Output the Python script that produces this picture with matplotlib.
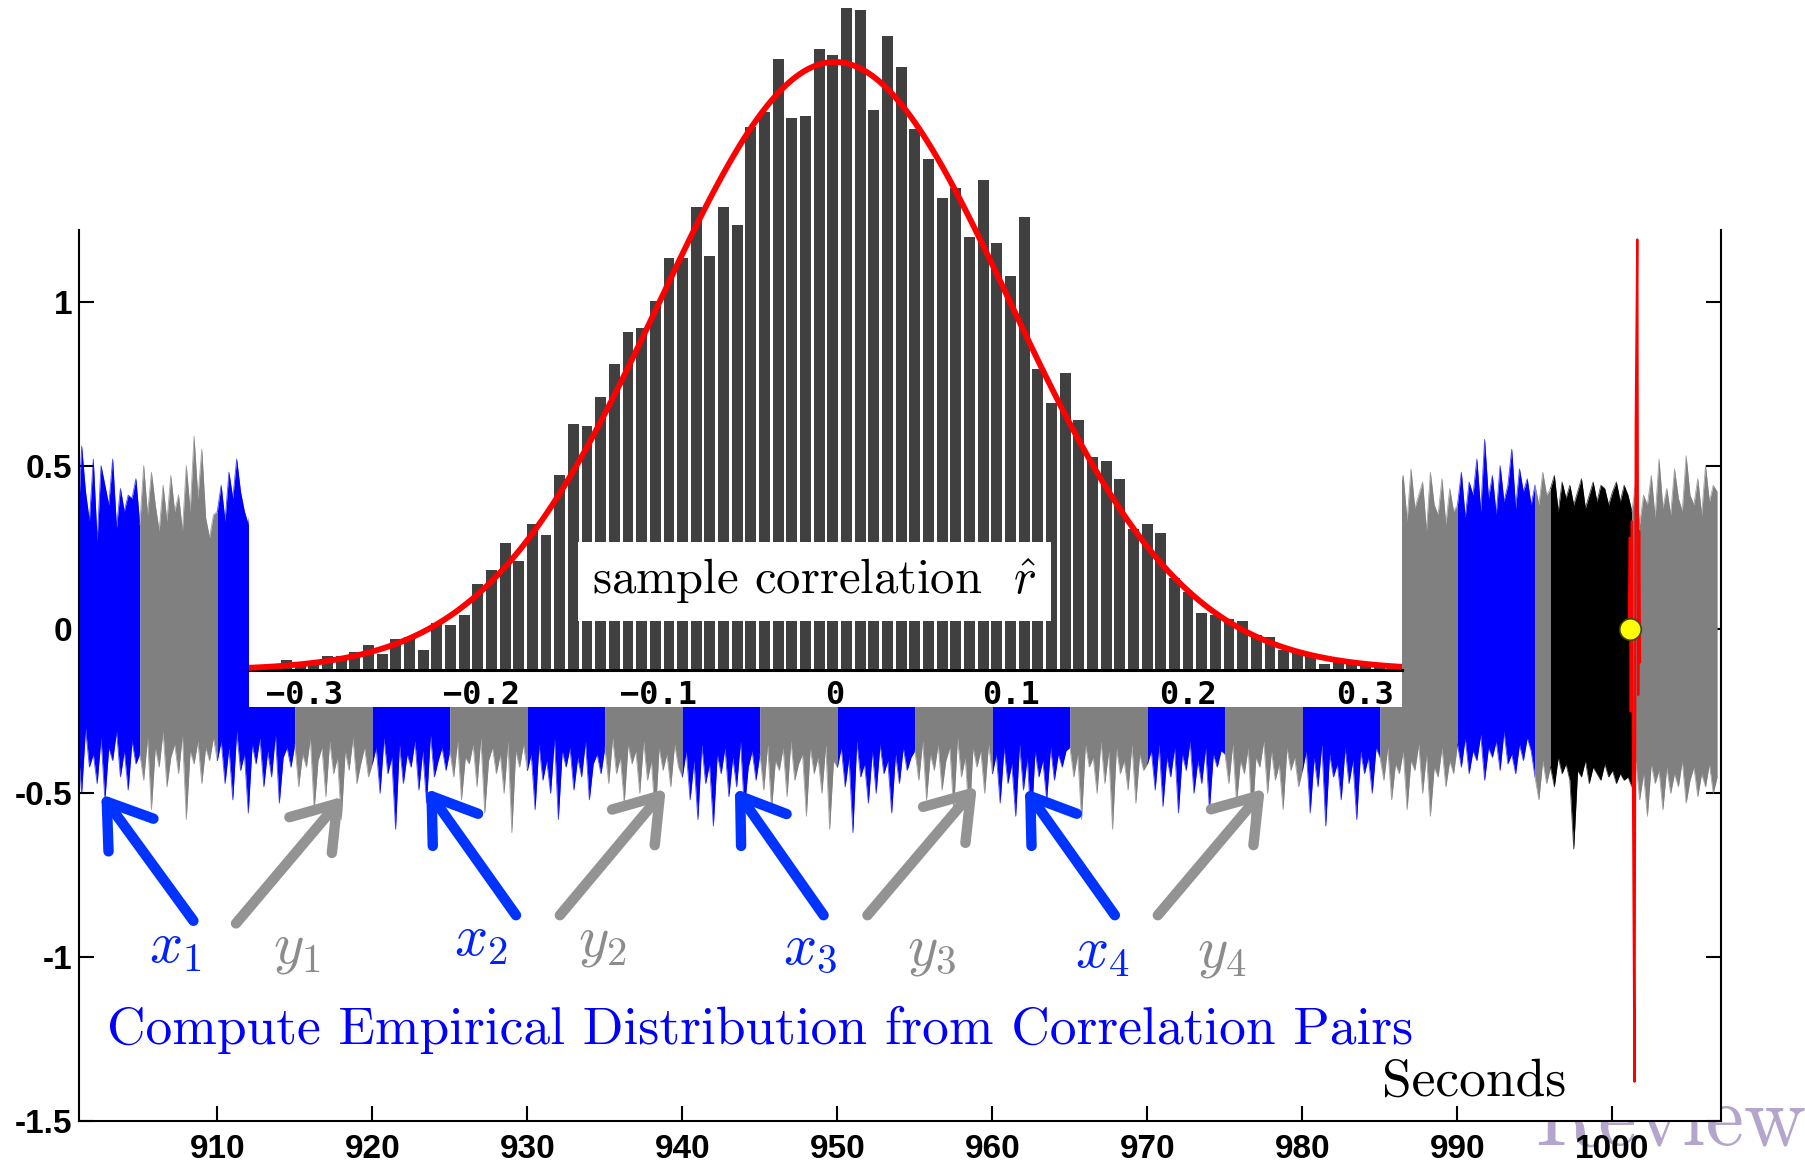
import numpy as np
import matplotlib
matplotlib.use("Agg")
import matplotlib.pyplot as plt

plt.rcParams['axes.unicode_minus'] = False
plt.rcParams['mathtext.fontset'] = 'cm'
plt.rcParams['path.simplify'] = False

# ---------------- data: time series envelope (sampled every 0.25 s from 901.0 s) ----------------
sig_start, sig_step = 901.0, 0.25
sig_upper = [
    0.30,0.56,0.42,0.33,0.52,0.27,0.50,0.44,0.38,0.52,0.31,0.43,0.36,0.41,0.40,0.46,
    0.32,0.50,0.35,0.48,0.38,0.30,0.44,0.33,0.47,0.36,0.41,0.30,0.50,0.36,0.59,0.40,0.55,0.34,0.28,0.35,
    0.36,0.44,0.33,0.48,0.40,0.52,0.42,0.36,0.32,0.40,0.30,0.45,0.35,0.38,0.42,0.30,0.36,0.44,0.33,0.39,
    0.34,0.41,0.30,0.38,0.45,0.33,0.36,0.40,0.31,0.43,0.37,0.35,0.48,0.32,0.39,0.42,0.34,0.30,0.44,0.36,
    0.39,0.33,0.46,0.35,0.40,0.31,0.37,0.44,0.34,0.38,0.42,0.30,0.36,0.47,0.33,0.40,0.35,0.43,0.31,0.38,
    0.36,0.42,0.32,0.39,0.35,0.45,0.30,0.41,0.37,0.33,0.46,0.35,0.38,0.31,0.43,0.36,0.40,0.34,0.39,0.32,
    0.41,0.35,0.44,0.31,0.38,0.47,0.34,0.40,0.36,0.43,0.32,0.39,0.45,0.33,0.37,0.42,0.30,0.46,0.35,0.40,
    0.33,0.40,0.36,0.45,0.31,0.38,0.43,0.35,0.41,0.30,0.47,0.34,0.39,0.36,0.44,0.32,0.40,0.37,0.42,0.35,
    0.38,0.45,0.34,0.41,0.36,0.48,0.32,0.39,0.44,0.35,0.40,0.31,0.46,0.37,0.42,0.34,0.38,0.43,0.33,0.41,
    0.35,0.42,0.31,0.46,0.37,0.40,0.33,0.44,0.36,0.39,0.45,0.32,0.41,0.35,0.47,0.38,0.34,0.42,0.36,0.40,
    0.43,0.36,0.40,0.33,0.47,0.35,0.41,0.38,0.32,0.44,0.37,0.42,0.34,0.39,0.46,0.31,0.40,0.36,0.43,0.35,
    0.37,0.44,0.33,0.40,0.36,0.42,0.31,0.45,0.38,0.35,0.41,0.47,0.34,0.39,0.36,0.43,0.32,0.40,0.37,0.44,
    0.40,0.34,0.45,0.37,0.41,0.32,0.48,0.36,0.39,0.43,0.35,0.40,0.33,0.46,0.38,0.34,0.42,0.37,0.41,0.36,
    0.34,0.41,0.38,0.44,0.31,0.39,0.36,0.46,0.33,0.40,0.37,0.43,0.35,0.38,0.42,0.30,0.45,0.36,0.39,0.34,
    0.42,0.36,0.39,0.45,0.34,0.41,0.37,0.33,0.47,0.38,0.35,0.43,0.40,0.32,0.44,0.37,0.39,0.35,0.46,0.38,
    0.36,0.43,0.34,0.40,0.38,0.45,0.32,0.41,0.36,0.39,0.44,0.33,0.42,0.37,0.35,0.46,0.38,0.40,0.34,0.43,
    0.39,0.35,0.44,0.37,0.42,0.33,0.40,0.46,0.36,0.38,0.41,0.34,0.45,0.39,0.36,0.43,0.31,0.40,0.37,0.42,
    0.35,0.42,0.31,0.38,0.36,0.44,0.47,0.33,0.49,0.37,0.41,0.45,0.30,0.48,0.38,0.35,0.46,0.32,0.43,0.36,
    0.38,0.48,0.34,0.45,0.41,0.52,0.36,0.58,0.40,0.47,0.35,0.50,0.39,0.44,0.55,0.37,0.49,0.42,0.46,0.38,
    0.44,0.38,0.48,0.41,0.43,0.47,0.36,0.45,0.40,0.44,0.38,0.42,0.46,0.37,0.41,0.45,0.39,0.44,0.43,0.38,
    0.42,0.45,0.39,0.44,0.41,0.36,0.45,0.32,0.41,0.38,0.47,0.34,0.52,0.37,0.43,0.35,0.49,0.40,0.36,0.53,
    0.41,0.38,0.46,0.35,0.50,0.39,0.44,0.42,
]
sig_lower = [
    -0.35,-0.50,-0.30,-0.42,-0.38,-0.47,-0.33,-0.52,-0.36,-0.40,-0.31,-0.45,-0.37,-0.49,-0.34,-0.41,
    -0.38,-0.46,-0.33,-0.55,-0.36,-0.42,-0.31,-0.48,-0.39,-0.35,-0.44,-0.32,-0.58,-0.37,-0.41,-0.34,-0.47,-0.36,-0.40,-0.33,
    -0.40,-0.34,-0.47,-0.36,-0.52,-0.31,-0.43,-0.38,-0.56,-0.35,-0.41,-0.33,-0.48,-0.37,-0.45,-0.32,-0.53,-0.39,-0.36,-0.42,
    -0.35,-0.48,-0.38,-0.42,-0.33,-0.55,-0.40,-0.36,-0.51,-0.34,-0.44,-0.39,-0.58,-0.37,-0.43,-0.33,-0.47,-0.41,-0.36,-0.45,
    -0.41,-0.36,-0.50,-0.33,-0.44,-0.39,-0.61,-0.35,-0.47,-0.38,-0.42,-0.34,-0.49,-0.37,-0.53,-0.32,-0.45,-0.40,-0.36,-0.43,
    -0.37,-0.45,-0.34,-0.52,-0.39,-0.41,-0.35,-0.48,-0.33,-0.56,-0.40,-0.36,-0.44,-0.38,-0.50,-0.34,-0.62,-0.37,-0.42,-0.35,
    -0.43,-0.38,-0.55,-0.35,-0.46,-0.40,-0.50,-0.33,-0.58,-0.37,-0.42,-0.36,-0.49,-0.39,-0.45,-0.34,-0.52,-0.41,-0.38,-0.44,
    -0.36,-0.47,-0.33,-0.44,-0.39,-0.53,-0.35,-0.41,-0.37,-0.50,-0.34,-0.46,-0.40,-0.57,-0.36,-0.43,-0.38,-0.48,-0.35,-0.42,
    -0.45,-0.37,-0.52,-0.40,-0.58,-0.35,-0.47,-0.41,-0.60,-0.38,-0.44,-0.36,-0.51,-0.39,-0.48,-0.34,-0.55,-0.42,-0.37,-0.46,
    -0.38,-0.49,-0.35,-0.55,-0.40,-0.43,-0.36,-0.51,-0.34,-0.46,-0.41,-0.38,-0.57,-0.36,-0.44,-0.39,-0.50,-0.35,-0.61,-0.40,
    -0.42,-0.36,-0.48,-0.39,-0.62,-0.34,-0.45,-0.41,-0.53,-0.37,-0.50,-0.35,-0.44,-0.40,-0.56,-0.38,-0.47,-0.36,-0.43,-0.39,
    -0.37,-0.46,-0.34,-0.52,-0.38,-0.43,-0.35,-0.49,-0.40,-0.36,-0.55,-0.33,-0.45,-0.39,-0.58,-0.36,-0.42,-0.37,-0.50,-0.35,
    -0.44,-0.38,-0.53,-0.36,-0.47,-0.41,-0.57,-0.35,-0.49,-0.39,-0.60,-0.37,-0.45,-0.40,-0.52,-0.36,-0.46,-0.38,-0.42,-0.37,
    -0.36,-0.45,-0.38,-0.58,-0.35,-0.42,-0.39,-0.50,-0.34,-0.47,-0.37,-0.61,-0.36,-0.44,-0.40,-0.49,-0.35,-0.53,-0.38,-0.43,
    -0.41,-0.37,-0.49,-0.35,-0.54,-0.39,-0.45,-0.36,-0.56,-0.38,-0.43,-0.34,-0.50,-0.40,-0.47,-0.36,-0.55,-0.38,-0.42,-0.37,
    -0.38,-0.47,-0.35,-0.53,-0.40,-0.44,-0.36,-0.58,-0.39,-0.42,-0.34,-0.50,-0.37,-0.46,-0.41,-0.55,-0.36,-0.43,-0.39,-0.48,
    -0.43,-0.37,-0.56,-0.39,-0.48,-0.35,-0.60,-0.38,-0.45,-0.41,-0.52,-0.36,-0.47,-0.40,-0.58,-0.37,-0.44,-0.39,-0.50,-0.36,
    -0.39,-0.46,-0.36,-0.52,-0.41,-0.44,-0.37,-0.55,-0.40,-0.43,-0.35,-0.50,-0.38,-0.57,-0.42,-0.45,-0.36,-0.48,-0.40,-0.44,
    -0.35,-0.42,-0.33,-0.44,-0.37,-0.40,-0.32,-0.46,-0.36,-0.39,-0.34,-0.43,-0.31,-0.41,-0.38,-0.44,-0.35,-0.40,-0.33,-0.37,
    -0.45,-0.52,-0.40,-0.47,-0.42,-0.48,-0.39,-0.44,-0.41,-0.46,-0.67,-0.43,-0.45,-0.40,-0.47,-0.42,-0.44,-0.46,-0.41,-0.45,
    -0.43,-0.47,-0.44,-0.46,-0.45,-0.48,-0.40,-0.52,-0.44,-0.57,-0.41,-0.47,-0.43,-0.55,-0.42,-0.50,-0.44,-0.48,-0.40,-0.53,
    -0.46,-0.42,-0.51,-0.44,-0.48,-0.41,-0.50,-0.45,
]
# coloured segments of the record (seconds)
seg_edges = [901.0, 905.0, 910.0, 915.0, 920.0, 925.0, 930.0, 935.0, 940.0, 945.0, 950.0,
             955.0, 960.0, 965.0, 970.0, 975.0, 980.0, 985.0, 990.0, 995.0, 996.0, 1001.1, 1007.0]
seg_kind = ['x', 'y', 'x', 'y', 'x', 'y', 'x', 'y', 'x', 'y', 'x',
            'y', 'x', 'y', 'x', 'y', 'x', 'y', 'x', 'y', 'k', 'y']

# event burst (red) and detection point (yellow)
red_t = [1001.05, 1001.12, 1001.18, 1001.25, 1001.32, 1001.42, 1001.50, 1001.60, 1001.66, 1001.72, 1001.78]
red_v = [0.0, 0.28, -0.25, 0.33, -0.45, -1.38, 0.62, 1.19, -0.20, 0.30, -0.10]
det_t, det_v = 1001.1, 0.0

# ---------------- data: histogram of sample correlations ----------------
hist_bin_start = -0.3296
hist_bin_width = 0.00773
hist_counts = [1,
    3, 5, 3, 3, 7, 7, 9, 13, 8, 16,
    17, 10, 24, 23, 28, 44, 51, 65, 56, 75,
    69, 100, 126, 125, 140, 157, 173, 175, 189, 211,
    211, 237, 212, 237, 228, 278, 286, 313, 283, 284,
    318, 315, 339, 338, 287, 325, 309, 277, 262, 242,
    247, 222, 251, 219, 202, 232, 154, 137, 152, 128,
    109, 107, 98, 72, 75, 70, 47, 40, 29, 28,
    26, 25, 18, 17, 10, 10, 7, 3, 4, 4,
    4, 2, 2]
n_pairs = 10000
fit_mu, fit_sigma = 0.0, 0.099
inset_ticks = [-0.3, -0.2, -0.1, 0.0, 0.1, 0.2, 0.3]
inset_ticklabels = ['\u22120.3', '\u22120.2', '\u22120.1', '0', '0.1', '0.2', '0.3']

x_ticks = [910, 920, 930, 940, 950, 960, 970, 980, 990, 1000]
y_ticks = [-1.5, -1, -0.5, 0, 0.5, 1]
y_ticklabels = ['-1.5', '-1', '-0.5', '0', '0.5', '1']

# arrow annotations: (tail_t, tail_y, head_t, head_y) and labels
pair_labels = ['$x_1$', '$y_1$', '$x_2$', '$y_2$', '$x_3$', '$y_3$', '$x_4$', '$y_4$']
label_pos = [(905.6, -1.016), (913.6, -1.016), (925.3, -0.995), (933.3, -0.995),
             (946.5, -1.022), (954.5, -1.022), (965.3, -1.03), (973.2, -1.03)]
arrow_pos = [(908.46, -0.889, 902.52, -0.503), (911.21, -0.897, 918.12, -0.510),
             (929.27, -0.872, 923.48, -0.486), (932.10, -0.872, 938.93, -0.486),
             (949.11, -0.872, 943.39, -0.486), (951.94, -0.872, 959.00, -0.479),
             (967.90, -0.872, 962.10, -0.486), (970.67, -0.872, 977.57, -0.486)]

# ---------------- styling ----------------
col = {'x': '#0000ff', 'y': '#808080', 'k': '#000000'}
arrow_col = {'x': '#0033ff', 'y': '#939393'}
label_col = {'x': '#0022ff', 'y': '#8c8c8c'}

W, H = 1806, 1171
fig = plt.figure(figsize=(W / 100, H / 100), dpi=100)
fig.patch.set_facecolor('white')

# watermark behind the axes
fig.text(1535 / W, 1 - 1145 / H, 'Review', fontsize=62, family='cmr10',
         color='#b3a5cc', ha='left', va='baseline', zorder=-1)

ax = fig.add_axes([79 / W, 1 - 1121 / H, (1721 - 79) / W, (1121 - 230) / H])
ax.set_xlim(901.08, 1007.0)
ax.set_ylim(-1.5, 1.219)

sig_t = sig_start + sig_step * np.arange(min(len(sig_upper), len(sig_lower)))
up = np.array(sig_upper[:len(sig_t)])
lo = np.array(sig_lower[:len(sig_t)])
for i in range(len(seg_kind)):
    a, b = seg_edges[i], seg_edges[i + 1]
    c = col[seg_kind[i]]
    # include the first sample after the segment so neighbouring segments join
    m = (sig_t >= a - 1e-9) & (sig_t < b + sig_step - 1e-9)
    tt = sig_t[m]
    ax.fill_between(tt, lo[m], up[m], color=c, lw=0, zorder=2)
    ax.plot(tt, up[m], color=c, lw=0.6, zorder=2, alpha=0.7)
    ax.plot(tt, lo[m], color=c, lw=0.6, zorder=2, alpha=0.7)

ax.plot(red_t, red_v, color='red', lw=1.6, zorder=4)
ax.plot([det_t], [det_v], 'o', ms=15.5, mfc='#ffff00', mec='#404000', mew=1.2, zorder=5)

for (t0, y0, t1, y1), lab, (lt, ly) in zip(arrow_pos, pair_labels, label_pos):
    kind = 'x' if lab.startswith('$x') else 'y'
    ax.annotate('', xy=(t1, y1), xytext=(t0, y0),
                arrowprops=dict(arrowstyle='->,head_length=0.74,head_width=0.5',
                                lw=7.5, color=arrow_col[kind], capstyle='round',
                                joinstyle='round', shrinkA=0, shrinkB=0,
                                mutation_scale=40), zorder=3)
    ax.text(lt, ly, lab, fontsize=42, color=label_col[kind], ha='left', va='baseline')

ax.text(902.88, -1.266, 'Compute Empirical Distribution from Correlation Pairs',
        family='cmr10', fontsize=38.5, color='#0000ff', ha='left', va='baseline')
ax.text(985.14, -1.422, 'Seconds', family='cmr10', fontsize=38.5, color='black',
        ha='left', va='baseline')

for s in ['left', 'right', 'bottom']:
    ax.spines[s].set_linewidth(1.5)
ax.spines['top'].set_visible(False)
ax.set_xticks(x_ticks)
ax.set_xticklabels([str(v) for v in x_ticks], fontfamily='Liberation Sans',
                   fontweight='bold', fontsize=24)
ax.set_yticks(y_ticks)
ax.set_yticklabels(y_ticklabels, fontfamily='Liberation Sans', fontweight='bold', fontsize=24)
ax.tick_params(axis='x', direction='in', length=11, width=1.5, pad=9, top=False)
ax.tick_params(axis='y', direction='in', length=11, width=1.5, pad=5, right=True)

# ---------------- inset histogram ----------------
ppc = 608 / (n_pairs * hist_bin_width / (fit_sigma * np.sqrt(2 * np.pi)))  # px per count
axin = fig.add_axes([249 / W, 1 - 707 / H, (1402 - 249) / W, 707 / H], zorder=3)
axin.set_facecolor('white')
axin.set_xlim(-0.3315, 0.321)
axin.set_ylim(-(707 - 670) / ppc, 670 / ppc)
centers = hist_bin_start + hist_bin_width * (np.arange(len(hist_counts)) + 0.5)
axin.bar(centers, hist_counts, width=hist_bin_width * 0.8, color='#404040', zorder=2)
rr = np.linspace(-0.3315, 0.321, 500)
pdf = np.exp(-0.5 * ((rr - fit_mu) / fit_sigma) ** 2) / (fit_sigma * np.sqrt(2 * np.pi))
axin.plot(rr, n_pairs * hist_bin_width * pdf, color='red', lw=4.2, zorder=3)
for s in ['top', 'left', 'right']:
    axin.spines[s].set_visible(False)
axin.spines['bottom'].set_position(('data', 0))
axin.spines['bottom'].set_linewidth(2.2)
axin.set_yticks([])
axin.set_xticks(inset_ticks)
axin.set_xticklabels(inset_ticklabels, fontfamily='DejaVu Sans Mono', fontweight='bold', fontsize=23)
axin.tick_params(axis='x', direction='in', length=6, width=1.5, pad=7)
axin.text(-0.0115, (670 - 581.5) / ppc, 'sample correlation  $\\hat{r}$', family='cmr10',
          fontsize=35, ha='center', va='center', zorder=4,
          bbox=dict(boxstyle='square,pad=0.3', fc='white', ec='none'))

fig.savefig('out.png', dpi=100)
